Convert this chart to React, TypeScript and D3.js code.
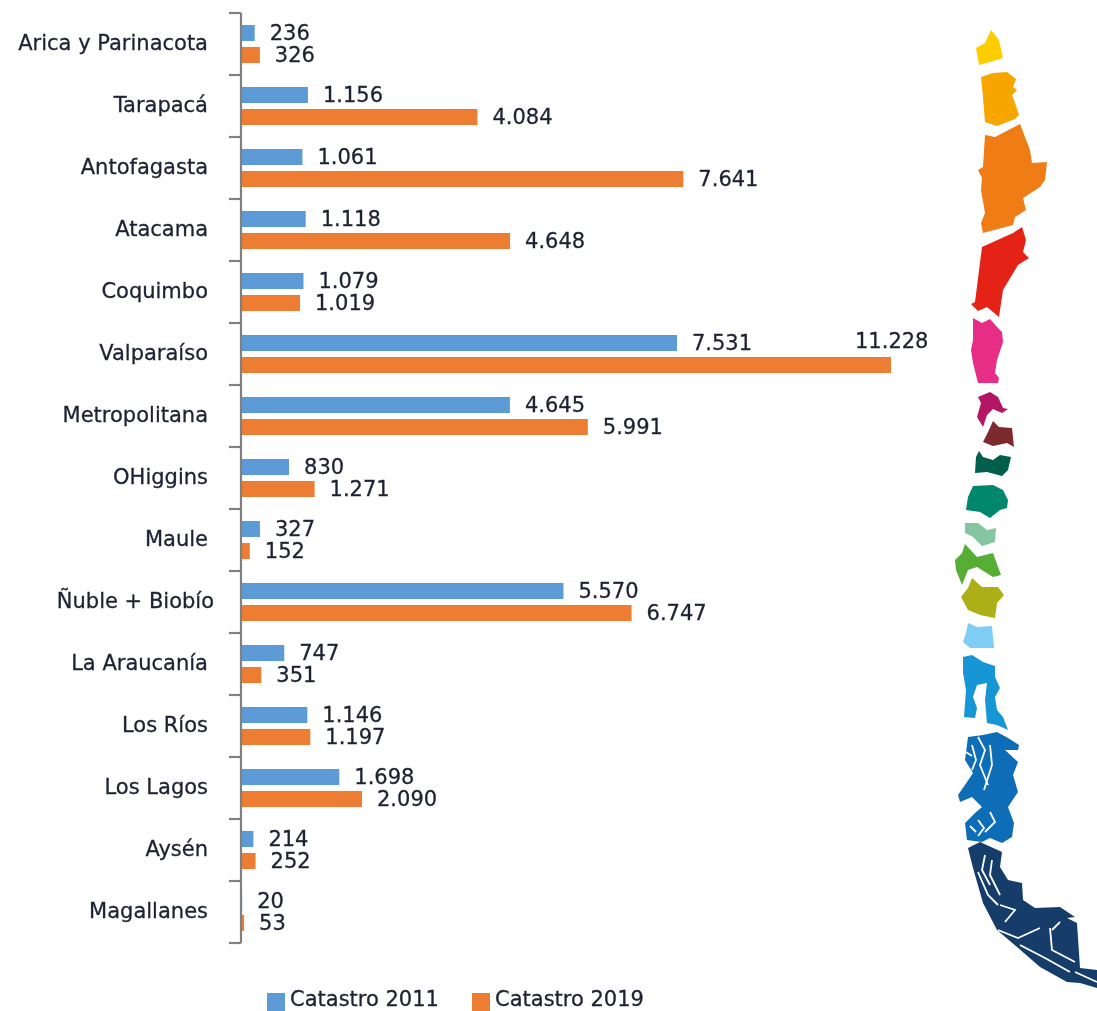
import * as d3 from 'd3';

const regions = ['Arica y Parinacota', 'Tarapacá', 'Antofagasta', 'Atacama', 'Coquimbo', 'Valparaíso', 'Metropolitana', 'OHiggins', 'Maule', 'Ñuble + Biobío', 'La Araucanía', 'Los Ríos', 'Los Lagos', 'Aysén', 'Magallanes'];
const catastro2011 = [236, 1156, 1061, 1118, 1079, 7531, 4645, 830, 327, 5570, 747, 1146, 1698, 214, 20];
const catastro2019 = [326, 4084, 7641, 4648, 1019, 11228, 5991, 1271, 152, 6747, 351, 1197, 2090, 252, 53];
const seriesNames = ['Catastro 2011', 'Catastro 2019'];
const seriesColors = ['#5B9BD5', '#ED7D31'];

// silhouette of the country, north to south
type Pt = [number, number];
const mapShapes: { color: string; pts: Pt[] }[] = [
  { color: '#FFCC00', pts: [[991, 30], [999, 40], [1003, 58], [990, 62], [979, 65], [976, 48], [985, 43]] },
  { color: '#F7A600', pts: [[981, 77], [993, 73], [1007, 72], [1016, 79], [1013, 87], [1017, 90], [1012, 95], [1015, 103], [1019, 115], [1015, 119], [997, 126], [985, 122], [983, 97]] },
  { color: '#F07B16', pts: [[1020, 124], [1030, 150], [1032, 163], [1047, 162], [1045, 180], [1040, 187], [1023, 198], [1026, 210], [1015, 217], [1013, 225], [983, 233], [981, 223], [985, 213], [981, 190], [982, 178], [978, 170], [983, 167], [985, 135], [995, 137]] },
  { color: '#E42313', pts: [[1022, 227], [1026, 240], [1023, 252], [1029, 258], [1018, 265], [1003, 290], [999, 317], [987, 307], [978, 311], [971, 304], [975, 302], [982, 247], [1013, 233]] },
  { color: '#E62D86', pts: [[973, 318], [982, 323], [990, 319], [997, 327], [1002, 332], [1003, 342], [997, 360], [995, 373], [999, 378], [998, 383], [978, 383], [973, 363], [971, 350], [973, 340]] },
  { color: '#B31263', pts: [[978, 397], [990, 392], [998, 397], [1003, 408], [1008, 409], [1002, 413], [993, 409], [987, 415], [983, 427], [977, 417], [981, 403]] },
  { color: '#7B2A2D', pts: [[993, 421], [999, 427], [1012, 428], [1014, 447], [1007, 443], [993, 446], [983, 442], [989, 430]] },
  { color: '#005E4B', pts: [[979, 451], [983, 457], [993, 460], [1000, 455], [1011, 457], [1008, 470], [1002, 476], [987, 472], [975, 473], [976, 457]] },
  { color: '#00876C', pts: [[973, 486], [993, 485], [1003, 490], [1008, 500], [1007, 508], [1000, 510], [990, 518], [980, 512], [966, 510], [968, 497]] },
  { color: '#85C6A0', pts: [[965, 523], [978, 523], [987, 530], [996, 528], [995, 542], [982, 546], [973, 537], [965, 533]] },
  { color: '#57AE34', pts: [[965, 544], [977, 557], [993, 553], [1001, 575], [993, 577], [977, 567], [968, 570], [962, 585], [956, 570], [955, 560], [962, 553]] },
  { color: '#ACB013', pts: [[972, 578], [982, 587], [998, 587], [1004, 595], [997, 603], [995, 618], [980, 615], [968, 610], [961, 597], [968, 588]] },
  { color: '#7FCDF4', pts: [[968, 623], [977, 627], [992, 626], [994, 648], [970, 648], [963, 642], [966, 633]] },
  { color: '#1896D5', pts: [[963, 657], [972, 655], [983, 662], [995, 666], [995, 677], [1000, 688], [995, 697], [997, 710], [1003, 717], [1008, 730], [997, 725], [987, 723], [985, 700], [987, 683], [977, 685], [973, 697], [977, 708], [975, 718], [964, 717], [966, 690], [963, 673]] },
  { color: '#0B6DB7', pts: [[983, 735], [997, 732], [1008, 738], [1019, 745], [1018, 750], [1005, 750], [1018, 762], [1013, 775], [1018, 792], [1008, 807], [1014, 823], [1012, 837], [1002, 843], [990, 838], [982, 842], [967, 840], [965, 823], [975, 813], [982, 807], [972, 797], [960, 802], [958, 795], [967, 782], [973, 773], [965, 760], [968, 737]] },
  { color: '#163D69', pts: [[968, 848], [980, 842], [1002, 852], [1000, 867], [1008, 880], [1022, 883], [1023, 900], [1035, 908], [1060, 907], [1075, 917], [1067, 918], [1077, 923], [1080, 968], [1097, 970], [1097, 988], [1080, 983], [1067, 982], [1040, 967], [1017, 947], [997, 930], [983, 903], [973, 868]] },
];
const fjords: Pt[][] = [
  [[978, 737], [985, 750], [980, 765], [988, 785]],
  [[972, 745], [976, 760], [972, 770]],
  [[990, 745], [992, 765], [984, 790]],
  [[966, 752], [972, 756]],
  [[990, 812], [995, 822], [985, 832]],
  [[978, 820], [984, 828], [978, 836]],
  [[970, 826], [976, 832]],
  [[985, 855], [982, 870], [990, 885]],
  [[992, 860], [990, 875], [1000, 895]],
  [[978, 872], [988, 895], [998, 905]],
  [[1000, 905], [1015, 910], [1005, 922]],
  [[998, 930], [1018, 938], [1040, 928]],
  [[1050, 928], [1052, 950], [1075, 962]],
  [[1060, 922], [1052, 930]],
  [[1020, 945], [1045, 958], [1070, 972]],
  [[1075, 972], [1097, 982]],
];

const width = 1097;
const height = 1011;
const axisX = 241;
const plotTop = 13;
const plotBottom = 943;
const font = '"DejaVu Sans", sans-serif';
const textColor = '#1f2233';
const textStyle = { fontFamily: font, fontSize: 21, fill: textColor, stroke: textColor, strokeWidth: 0.3 };

const y0 = d3.scaleBand<string>().domain(regions).range([plotTop, plotBottom]);
const y1 = d3.scaleBand<string>().domain(seriesNames).range([0, y0.step()]).paddingInner(0.27).paddingOuter(0.545);
const x = d3.scaleLinear().domain([0, 11228]).range([axisX, 891]);
const fmt = d3.formatLocale({ decimal: ',', thousands: '.', grouping: [3], currency: ['$', ''] }).format(',d');
const shapeLine = d3.line<Pt>().curve(d3.curveLinearClosed);
const openLine = d3.line<Pt>();
const series = [catastro2011, catastro2019];

export default function App() {
  return (
    <svg width={width} height={height} style={{ position: 'absolute', left: 0, top: 0, display: 'block' }}>
      <defs>
        <filter id="soft" x="-2%" y="-2%" width="104%" height="104%">
          <feGaussianBlur stdDeviation="0.6" />
        </filter>
      </defs>
      <g filter="url(#soft)">
        {/* map */}
        {mapShapes.map((s) => (
          <path key={s.color} d={shapeLine(s.pts) as string} fill={s.color} />
        ))}
        {fjords.map((f, i) => (
          <path key={i} d={openLine(f) as string} fill="none" stroke="#fff" strokeWidth={1.8} />
        ))}

        {/* bars */}
        {regions.map((r, i) => (
          <g key={r} transform={`translate(0,${y0(r)})`}>
            {seriesNames.map((name, j) => {
              const v = series[j][i];
              const top = y1(name) as number;
              // the 11.228 label sits above its bar in the original
              const moved = v === 11228;
              return (
                <g key={name}>
                  <rect x={axisX} y={top} width={x(v) - axisX} height={y1.bandwidth()} fill={seriesColors[j]} />
                  <text
                    x={moved ? 855 : x(v) + 15}
                    y={(moved ? top - 24 : top) + y1.bandwidth() / 2}
                    dy="0.34em"
                    style={textStyle}
                  >
                    {fmt(v)}
                  </text>
                </g>
              );
            })}
            <text
              x={r.startsWith('Ñuble') ? 214 : 208}
              y={y0.bandwidth() / 2}
              dy="0.3em"
              textAnchor="end"
              style={textStyle}
            >
              {r}
            </text>
          </g>
        ))}

        {/* axis */}
        <line x1={axisX} x2={axisX} y1={plotTop} y2={plotBottom} stroke="#808080" strokeWidth={2.2} />
        {[...regions.map((r) => y0(r) as number), plotBottom].map((t) => (
          <line key={t} x1={229} x2={axisX} y1={t} y2={t} stroke="#808080" strokeWidth={2.2} />
        ))}

        {/* legend */}
        {seriesNames.map((name, j) => {
          const lx = j === 0 ? 267 : 472;
          return (
            <g key={name}>
              <rect x={lx} y={993} width={18} height={18} fill={seriesColors[j]} />
              <text x={lx + 23} y={1006} style={textStyle}>
                {name}
              </text>
            </g>
          );
        })}
      </g>
    </svg>
  );
}
